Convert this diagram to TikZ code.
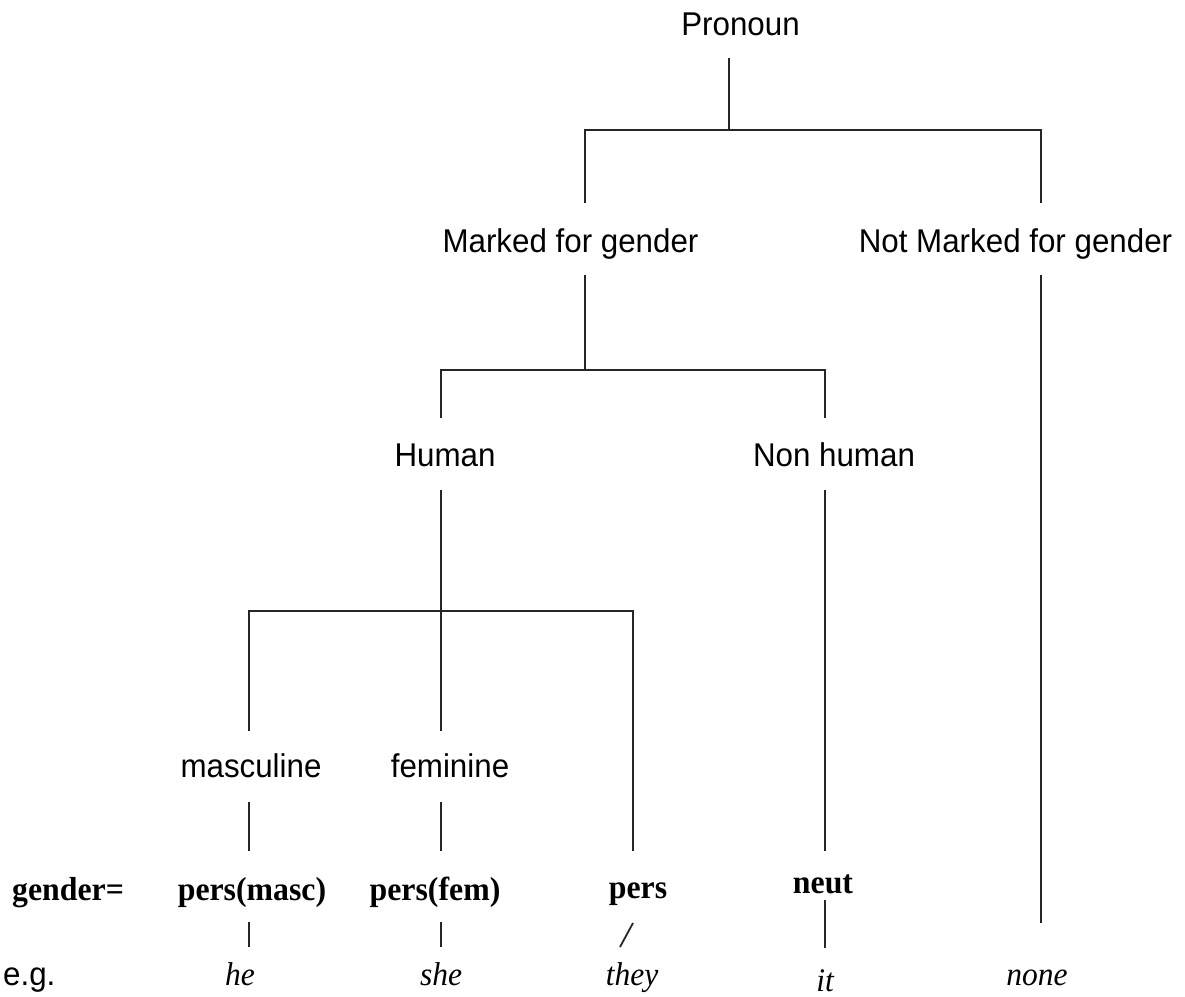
\documentclass[tikz,border=0pt]{standalone}
\usepackage{fontspec}
\setmainfont{Liberation Serif}[FakeStretch=0.955]
\newfontfamily\arialf{Liberation Sans}[FakeStretch=0.952]
\begin{document}
\begin{tikzpicture}[x=1pt,y=-1pt,
  lab/.style={anchor=base,inner sep=0pt,font=\arialf\fontsize{32.9}{38}\selectfont},
  val/.style={anchor=base,inner sep=0pt,font=\bfseries\fontsize{33.3}{38}\selectfont},
  ex/.style={anchor=base,inner sep=0pt,font=\itshape\fontsize{33}{38}\selectfont},
  edge/.style={draw=black!85,line width=1.8pt}]
\useasboundingbox (0,0) rectangle (1185,996);
% labels
\node[lab] (pron) at (740.5,35) {Pronoun};
\node[lab] (mark) at (570.5,252) {Marked for gender};
\node[lab] (notm) at (1015.5,252) {Not Marked for gender};
\node[lab] (hum) at (445,466) {Human};
\node[lab] (nonh) at (834,466) {Non human};
\node[lab] (masc) at (251,777) {masculine};
\node[lab] (fem) at (450,777) {feminine};
\node[val] (gen) at (68,900) {gender=};
\node[val] (pmasc) at (252,900) {pers(masc)};
\node[val] (pfem) at (435,900) {pers(fem)};
\node[val] (pers) at (638,898) {pers};
\node[val] (neut) at (823,893) {neut};
\node[lab,anchor=base west] (eg) at (3,985) {e.g.};
\node[ex] (he) at (240,985) {he};
\node[ex] (she) at (441,985) {she};
\node[ex] (they) at (632,985) {they};
\node[ex] (it) at (825,991) {it};
\node[ex] (none) at (1037,985) {none};
% coordinates
\coordinate (pronB) at (729,58);
\coordinate (j1) at (729,130);
\coordinate (j1L) at (585,130);
\coordinate (j1R) at (1041,130);
\coordinate (markT) at (585,203);
\coordinate (notmT) at (1041,203);
\coordinate (markB) at (585,275);
\coordinate (notmB) at (1041,275);
\coordinate (j2) at (585,370);
\coordinate (j2L) at (441,370);
\coordinate (j2R) at (825,370);
\coordinate (humT) at (441,418);
\coordinate (nonhT) at (825,418);
\coordinate (humB) at (441,490);
\coordinate (nonhB) at (825,490);
\coordinate (j3) at (441,611);
\coordinate (j3L) at (249,611);
\coordinate (j3R) at (633,611);
\coordinate (mascT) at (249,731);
\coordinate (femT) at (441,731);
\coordinate (persT) at (633,851);
\coordinate (neutT) at (825,851);
\coordinate (noneT) at (1041,923);
\coordinate (mascB) at (249,802);
\coordinate (femB) at (441,802);
\coordinate (pmascT) at (249,851);
\coordinate (pfemT) at (441,851);
\coordinate (pmascB) at (249,922);
\coordinate (pfemB) at (441,922);
\coordinate (heT) at (249,947);
\coordinate (sheT) at (441,947);
\coordinate (persB) at (633,923);
\coordinate (theyT) at (620,947);
\coordinate (neutB) at (825,900);
\coordinate (itT) at (825,948);
% connectors
\draw[edge] (pronB) -- (j1);
\draw[edge] (markT) -- (j1L) -- (j1R) -- (notmT);
\draw[edge] (markB) -- (j2);
\draw[edge] (humT) -- (j2L) -- (j2R) -- (nonhT);
\draw[edge] (humB) -- (femT);
\draw[edge] (mascT) -- (j3L) -- (j3R) -- (persT);
\draw[edge] (nonhB) -- (neutT);
\draw[edge] (notmB) -- (noneT);
\draw[edge] (mascB) -- (pmascT);
\draw[edge] (femB) -- (pfemT);
\draw[edge] (pmascB) -- (heT);
\draw[edge] (pfemB) -- (sheT);
\draw[edge] (persB) -- (theyT);
\draw[edge] (neutB) -- (itT);
\end{tikzpicture}
\end{document}
